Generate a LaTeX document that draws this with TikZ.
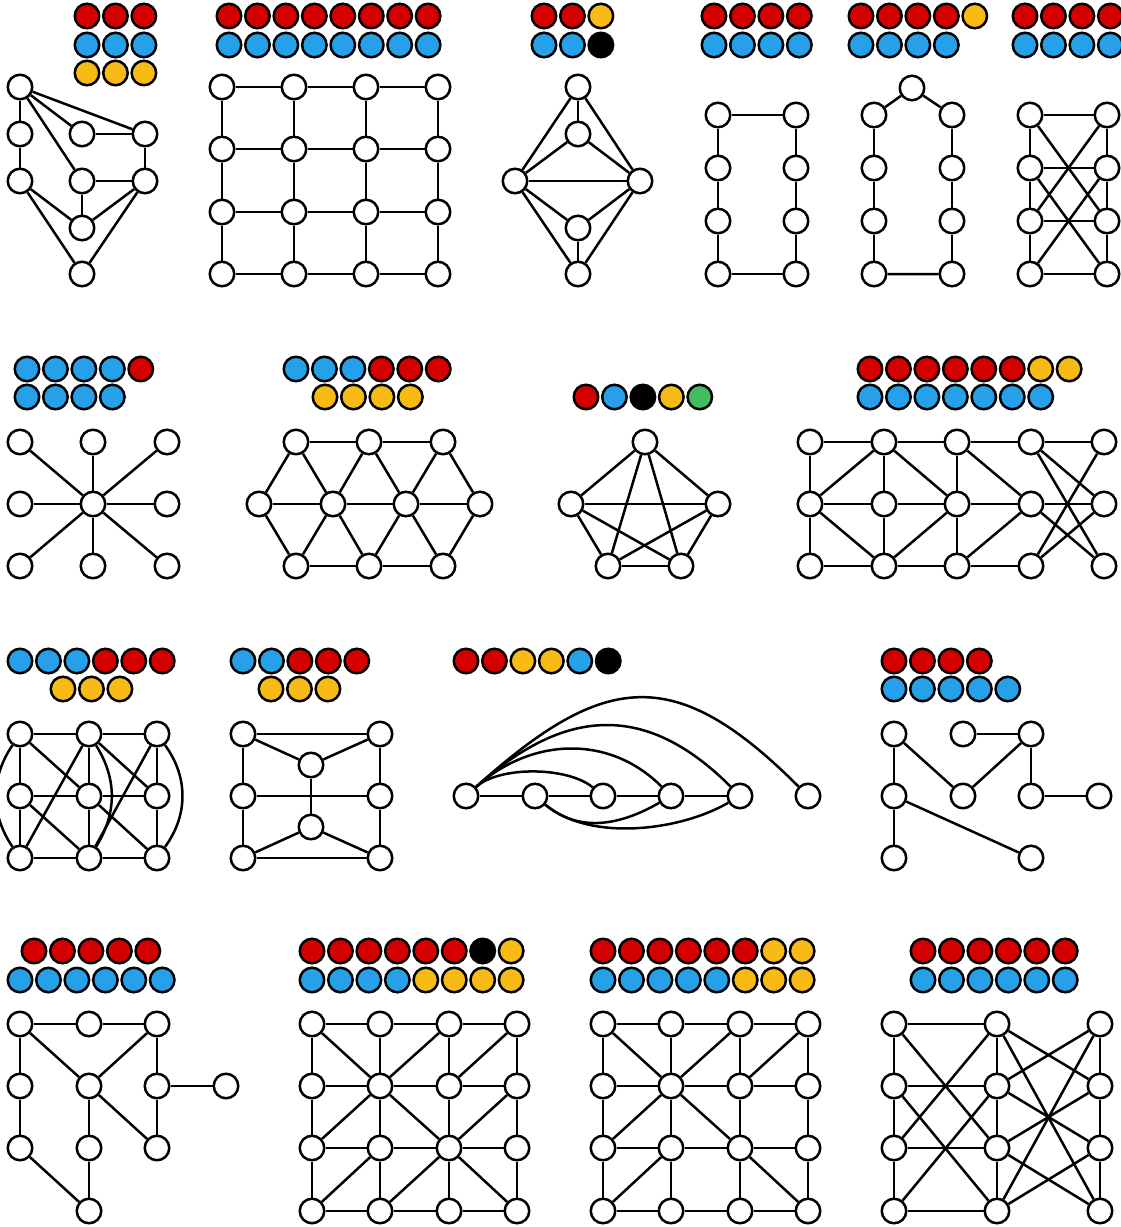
\documentclass[tikz,border=0pt]{standalone}
\definecolor{cr}{RGB}{212,0,0}
\definecolor{cb}{RGB}{38,161,233}
\definecolor{cy}{RGB}{248,187,22}
\definecolor{cg}{RGB}{66,190,97}
\definecolor{ck}{RGB}{0,0,0}
\tikzset{
  v/.style={circle,draw=black,fill=white,line width=2.5pt,minimum size=24.5pt,inner sep=0pt},
  dot/.style={v},
}
\newcommand\palrow[4]{\foreach \c [count=\i] in {#4} {\node[dot,fill=\c] (#1\i) at ({#2+28.45*(\i-1)},#3) {};}}
\begin{document}
\begin{tikzpicture}[x=1pt,y=-1pt,line width=2.5pt]
\useasboundingbox (0,0) rectangle (1121,1227);
% ---------- palettes ----------
\palrow{pa}{87}{16}{cr,cr,cr}
\palrow{pb}{87}{45}{cb,cb,cb}
\palrow{pc}{87}{73}{cy,cy,cy}
\palrow{qa}{229}{16}{cr,cr,cr,cr,cr,cr,cr,cr}
\palrow{qb}{229}{45}{cb,cb,cb,cb,cb,cb,cb,cb}
\palrow{ra}{544}{16}{cr,cr,cy}
\palrow{rb}{544}{45}{cb,cb,ck}
\palrow{sa}{714}{16}{cr,cr,cr,cr}
\palrow{sb}{714}{45}{cb,cb,cb,cb}
\palrow{ta}{861}{16}{cr,cr,cr,cr,cy}
\palrow{tb}{861}{45}{cb,cb,cb,cb}
\palrow{ua}{1025}{16}{cr,cr,cr,cr}
\palrow{ub}{1025}{45}{cb,cb,cb,cb}
\palrow{va}{27}{369}{cb,cb,cb,cb,cr}
\palrow{vb}{27}{397}{cb,cb,cb,cb}
\palrow{wa}{296}{369}{cb,cb,cb,cr,cr,cr}
\palrow{wb}{325}{397}{cy,cy,cy,cy}
\palrow{xa}{586}{397}{cr,cb,ck,cy,cg}
\palrow{ya}{870}{369}{cr,cr,cr,cr,cr,cr,cy,cy}
\palrow{yb}{870}{397}{cb,cb,cb,cb,cb,cb,cb}
\palrow{za}{20}{661}{cb,cb,cb,cr,cr,cr}
\palrow{zb}{63}{689}{cy,cy,cy}
\palrow{aa}{243}{661}{cb,cb,cr,cr,cr}
\palrow{ab}{271}{689}{cy,cy,cy}
\palrow{ba}{466}{661}{cr,cr,cy,cy,cb,ck}
\palrow{ca}{894}{661}{cr,cr,cr,cr}
\palrow{cb}{894}{689}{cb,cb,cb,cb,cb}
\palrow{da}{34}{951}{cr,cr,cr,cr,cr}
\palrow{db}{20}{980}{cb,cb,cb,cb,cb,cb}
\palrow{ea}{312}{951}{cr,cr,cr,cr,cr,cr,ck,cy}
\palrow{eb}{312}{980}{cb,cb,cb,cb,cy,cy,cy,cy}
\palrow{fa}{603}{951}{cr,cr,cr,cr,cr,cr,cy,cy}
\palrow{fb}{603}{980}{cb,cb,cb,cb,cb,cy,cy,cy}
\palrow{ga}{923}{951}{cr,cr,cr,cr,cr,cr}
\palrow{gb}{923}{980}{cb,cb,cb,cb,cb,cb}
% ---------- G1 ----------
\node[v] (a1) at (20,87) {};
\node[v] (a2) at (20,134) {};
\node[v] (a3) at (20,181) {};
\node[v] (a4) at (82,134) {};
\node[v] (a5) at (145,134) {};
\node[v] (a6) at (82,181) {};
\node[v] (a7) at (145,181) {};
\node[v] (a8) at (82,228) {};
\node[v] (a9) at (82,274) {};
\foreach \p/\q in {a1/a2,a2/a3,a1/a5,a1/a4,a1/a6,a4/a5,a5/a7,a6/a7,a6/a8,a8/a7,a3/a8,a3/a9,a9/a7} \draw (\p)--(\q);
% ---------- G2 ----------
\foreach \i/\x in {1/222,2/294,3/366,4/438} {\foreach \j/\y in {1/87,2/149,3/212,4/274} {\node[v] (b\i\j) at (\x,\y) {};}}
\foreach \i in {1,2,3,4} {\foreach \j/\k in {1/2,2/3,3/4} {\draw (b\i\j)--(b\i\k) (b\j\i)--(b\k\i);}}
% ---------- G3 ----------
\node[v] (c1) at (578,87) {};
\node[v] (c2) at (578,134) {};
\node[v] (c3) at (515,181) {};
\node[v] (c4) at (640,181) {};
\node[v] (c5) at (578,228) {};
\node[v] (c6) at (578,274) {};
\foreach \p/\q in {c1/c2,c1/c3,c1/c4,c2/c3,c2/c4,c3/c4,c3/c5,c4/c5,c5/c6,c3/c6,c4/c6} \draw (\p)--(\q);
% ---------- G4 ----------
\foreach \j/\y in {1/115,2/168,3/221,4/274} {\node[v] (dl\j) at (718,\y) {}; \node[v] (dr\j) at (796,\y) {};}
\draw (dl1)--(dr1) (dl4)--(dr4);
\foreach \j/\k in {1/2,2/3,3/4} {\draw (dl\j)--(dl\k) (dr\j)--(dr\k);}
% ---------- G5 ----------
\node[v] (e0) at (912,88) {};
\foreach \j/\y in {1/115,2/168,3/221,4/274} {\node[v] (el\j) at (874,\y) {}; \node[v] (er\j) at (952,\y) {};}
\draw (e0)--(el1) (e0)--(er1) (el4)--(er4);
\foreach \j/\k in {1/2,2/3,3/4} {\draw (el\j)--(el\k) (er\j)--(er\k);}
% ---------- G6 ----------
\foreach \j/\y in {1/115,2/168,3/221,4/274} {\node[v] (fl\j) at (1030,\y) {}; \node[v] (fr\j) at (1107,\y) {};}
\foreach \j in {1,2,3,4} {\draw (fl\j)--(fr\j);}
\foreach \j/\k in {1/2,2/3,3/4} {\draw (fl\j)--(fl\k) (fr\j)--(fr\k);}
\draw (fl1)--(fr3) (fl3)--(fr1) (fl2)--(fr4) (fl4)--(fr2);
% ---------- G7 ----------
\foreach \i/\x in {1/20,2/93,3/167} {\foreach \j/\y in {1/442,2/504,3/566} {\node[v] (g\i\j) at (\x,\y) {};}}
\foreach \n in {g11,g21,g31,g12,g32,g13,g23,g33} \draw (g22)--(\n);
% ---------- G8 ----------
\node[v] (ht1) at (296,442) {};
\node[v] (ht2) at (369,442) {};
\node[v] (ht3) at (443,442) {};
\node[v] (hm1) at (259,504) {};
\node[v] (hm2) at (333,504) {};
\node[v] (hm3) at (406,504) {};
\node[v] (hm4) at (480,504) {};
\node[v] (hb1) at (296,566) {};
\node[v] (hb2) at (369,566) {};
\node[v] (hb3) at (443,566) {};
\foreach \p/\q in {ht1/ht2,ht2/ht3,hm1/hm2,hm2/hm3,hm3/hm4,hb1/hb2,hb2/hb3,ht1/hm1,ht1/hm2,ht2/hm2,ht2/hm3,ht3/hm3,ht3/hm4,hb1/hm1,hb1/hm2,hb2/hm2,hb2/hm3,hb3/hm3,hb3/hm4} \draw (\p)--(\q);
% ---------- G9 ----------
\node[v] (k1) at (645,442) {};
\node[v] (k2) at (571,504) {};
\node[v] (k3) at (718,504) {};
\node[v] (k4) at (608,566) {};
\node[v] (k5) at (681,566) {};
\foreach \p/\q in {k1/k2,k1/k3,k1/k4,k1/k5,k2/k3,k2/k4,k2/k5,k3/k4,k3/k5,k4/k5} \draw (\p)--(\q);
% ---------- G10 ----------
\foreach \i/\x in {1/810,2/884,3/957,4/1031,5/1104} {\foreach \j/\y in {1/442,2/504,3/566} {\node[v] (m\i\j) at (\x,\y) {};}}
\foreach \p/\q in {m11/m21,m21/m31,m31/m41,m41/m51,m12/m22,m22/m32,m32/m42,m42/m52,m13/m23,m23/m33,m33/m43,m11/m12,m12/m13,m21/m22,m22/m23,m31/m32,m32/m33,m21/m12,m21/m32,m12/m23,m32/m23,m31/m42,m42/m33,m41/m52,m41/m53,m51/m43,m52/m43,m42/m53} \draw (\p)--(\q);
% ---------- G11 ----------
\foreach \i/\x in {1/20,2/89,3/157} {\foreach \j/\y in {1/734,2/796,3/858} {\node[v] (n\i\j) at (\x,\y) {};}}
\foreach \p/\q in {n11/n21,n21/n31,n12/n22,n22/n32,n13/n23,n23/n33,n11/n12,n12/n13,n21/n22,n22/n23,n31/n32,n32/n33,n11/n22,n12/n23,n21/n13,n31/n23,n21/n32,n22/n33} \draw (\p)--(\q);
\draw (n11) to[bend right=34] (n13);
\draw (n21) to[bend left=32] (n23);
\draw (n31) to[bend left=36] (n33);
% ---------- G12 ----------
\node[v] (o1) at (243,734) {};
\node[v] (o2) at (380,734) {};
\node[v] (o3) at (243,796) {};
\node[v] (o4) at (380,796) {};
\node[v] (o5) at (243,858) {};
\node[v] (o6) at (380,858) {};
\node[v] (o7) at (311,765) {};
\node[v] (o8) at (311,827) {};
\foreach \p/\q in {o1/o2,o1/o3,o3/o5,o2/o4,o4/o6,o5/o6,o3/o4,o1/o7,o2/o7,o7/o8,o8/o5,o8/o6} \draw (\p)--(\q);
% ---------- G13 ----------
\foreach \i/\x in {1/466,2/535,3/603,4/671,5/740,6/808} {\node[v] (q\i) at (\x,796) {};}
\draw (q1)--(q2) (q2)--(q3) (q3)--(q4) (q4)--(q5);
\draw (q1) to[out=42,in=140,looseness=0.7] (q3);
\draw (q1) to[out=42,in=135,looseness=1.02] (q4);
\draw (q1) to[out=42,in=135,looseness=1.2] (q5);
\draw (q1) to[out=42,in=135,looseness=1.38] (q6);
\draw (q2) to[out=-40,in=-150,looseness=1.0] (q4);
\draw (q2) to[out=-40,in=-150,looseness=0.8] (q5);
% ---------- G14 ----------
\node[v] (r1) at (894,734) {};
\node[v] (r2) at (963,734) {};
\node[v] (r3) at (1031,734) {};
\node[v] (r4) at (894,796) {};
\node[v] (r5) at (963,796) {};
\node[v] (r6) at (1031,796) {};
\node[v] (r7) at (1099,796) {};
\node[v] (r8) at (894,858) {};
\node[v] (r9) at (1031,858) {};
\foreach \p/\q in {r1/r4,r1/r5,r2/r3,r3/r5,r3/r6,r6/r7,r4/r8,r4/r9} \draw (\p)--(\q);
% ---------- G15 ----------
\node[v] (s1) at (20,1024) {};
\node[v] (s2) at (89,1024) {};
\node[v] (s3) at (157,1024) {};
\node[v] (s4) at (20,1086) {};
\node[v] (s5) at (89,1086) {};
\node[v] (s6) at (157,1086) {};
\node[v] (s7) at (226,1086) {};
\node[v] (s8) at (20,1148) {};
\node[v] (s9) at (89,1148) {};
\node[v] (s10) at (157,1148) {};
\node[v] (s11) at (89,1211) {};
\foreach \p/\q in {s1/s2,s2/s3,s1/s4,s1/s5,s3/s5,s3/s6,s6/s7,s5/s9,s5/s10,s6/s10,s4/s8,s8/s11,s9/s11} \draw (\p)--(\q);
% ---------- G16 ----------
\foreach \i/\x in {1/312,2/380,3/449,4/517} {\foreach \j/\y in {1/1024,2/1086,3/1148,4/1211} {\node[v] (t\i\j) at (\x,\y) {};}}
\foreach \i in {1,2,3,4} {\foreach \j/\k in {1/2,2/3,3/4} {\draw (t\i\j)--(t\i\k) (t\j\i)--(t\k\i);}}
\foreach \p/\q in {t11/t22,t22/t31,t32/t41,t22/t13,t22/t33,t33/t42,t23/t14,t33/t24,t33/t44} \draw (\p)--(\q);
% ---------- G17 ----------
\foreach \i/\x in {1/603,2/671,3/740,4/808} {\foreach \j/\y in {1/1024,2/1086,3/1148,4/1211} {\node[v] (u\i\j) at (\x,\y) {};}}
\foreach \i in {1,2,3,4} {\foreach \j/\k in {1/2,2/3,3/4} {\draw (u\i\j)--(u\i\k) (u\j\i)--(u\k\i);}}
\foreach \p/\q in {u11/u22,u22/u31,u32/u41,u22/u13,u22/u33,u23/u14,u33/u44} \draw (\p)--(\q);
% ---------- G18 ----------
\foreach \j/\y in {1/1024,2/1086,3/1148,4/1211} {\node[v] (wl\j) at (894,\y) {}; \node[v] (wm\j) at (997,\y) {}; \node[v] (wr\j) at (1100,\y) {};}
\foreach \j in {1,2,3,4} {\draw (wl\j)--(wm\j);}
\foreach \j/\k in {1/2,2/3,3/4} {\draw (wl\j)--(wl\k) (wm\j)--(wm\k) (wr\j)--(wr\k);}
\foreach \p/\q in {wl1/wm3,wl3/wm1,wl2/wm4,wl4/wm2,wm1/wr2,wm1/wr4,wm2/wr1,wm2/wr3,wm3/wr2,wm3/wr4,wm4/wr1,wm4/wr3} \draw (\p)--(\q);
\end{tikzpicture}
\end{document}
